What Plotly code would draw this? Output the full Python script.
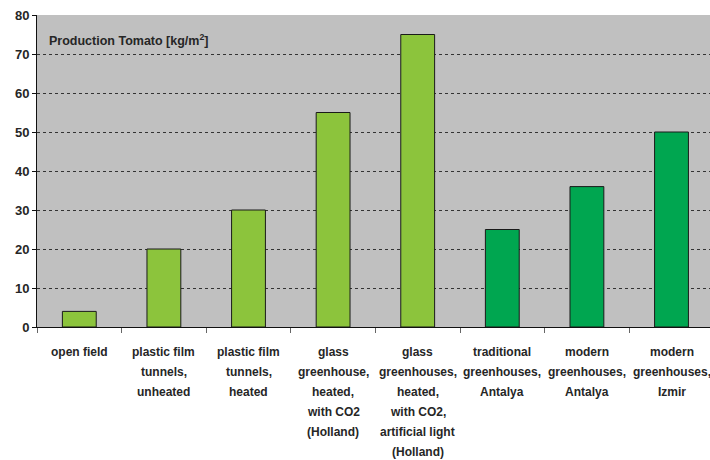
import plotly.graph_objects as go

# Tomato yield per production system
categories = [
    "open field",
    "plastic film\ntunnels,\nunheated",
    "plastic film\ntunnels,\nheated",
    "glass\ngreenhouse,\nheated,\nwith CO2\n(Holland)",
    "glass\ngreenhouses,\nheated,\nwith CO2,\nartificial light\n(Holland)",
    "traditional\ngreenhouses,\nAntalya",
    "modern\ngreenhouses,\nAntalya",
    "modern\ngreenhouses,\nIzmir",
]
production = [4, 20, 30, 55, 75, 25, 36, 50]
turkish_site = [False, False, False, False, False, True, True, True]
y_ticks = [0, 10, 20, 30, 40, 50, 60, 70, 80]

LIGHT_GREEN = "#8CC43C"
DARK_GREEN = "#00A650"
bar_colors = [DARK_GREEN if t else LIGHT_GREEN for t in turkish_site]

FONT = "Liberation Sans, Arial, sans-serif"
TEXT = "#262626"

x_idx = list(range(len(categories)))

fig = go.Figure(
    go.Bar(
        x=x_idx,
        y=production,
        marker=dict(color=bar_colors, line=dict(color="#1a1a1a", width=1)),
        width=0.4,
        hoverinfo="y",
    )
)

# multi-line category labels, one annotation per line for wider line spacing
for i, label in enumerate(categories):
    for j, line in enumerate(label.split("\n")):
        fig.add_annotation(
            x=i, xref="x", y=0, yref="paper",
            text=line, showarrow=False,
            xanchor="center", yanchor="middle",
            yshift=-(25 + 20 * j),
            font=dict(family=FONT, size=12, color=TEXT, weight="bold"),
        )

fig.add_annotation(
    x=0, xref="paper", y=1, yref="paper",
    text="Production Tomato [kg/m<sup>2</sup>]",
    showarrow=False, xanchor="left", yanchor="middle",
    xshift=10, yshift=-25,
    font=dict(family=FONT, size=12.5, color=TEXT, weight="bold"),
)

fig.update_layout(
    width=710, height=460,
    margin=dict(l=37, r=0, t=15, b=133),
    paper_bgcolor="white",
    plot_bgcolor="#C0C0C0",
    showlegend=False,
    xaxis=dict(
        type="linear",
        range=[-0.5, 7.455],
        tickvals=[k - 0.5 for k in range(len(categories) + 1)],
        showticklabels=False,
        ticks="outside", ticklen=5, tickcolor="#666",
        showgrid=False, zeroline=False,
        showline=True, linecolor="#111", linewidth=1,
    ),
    yaxis=dict(
        range=[0, 80],
        tickvals=y_ticks,
        ticks="outside", ticklen=4, tickcolor="#111",
        tickfont=dict(family=FONT, size=13, color=TEXT, weight="bold"),
        showgrid=True, gridcolor="#333", gridwidth=1, griddash="dot",
        zeroline=False,
        showline=True, linecolor="#111", linewidth=1,
    ),
)

fig.write_html("out.html")
